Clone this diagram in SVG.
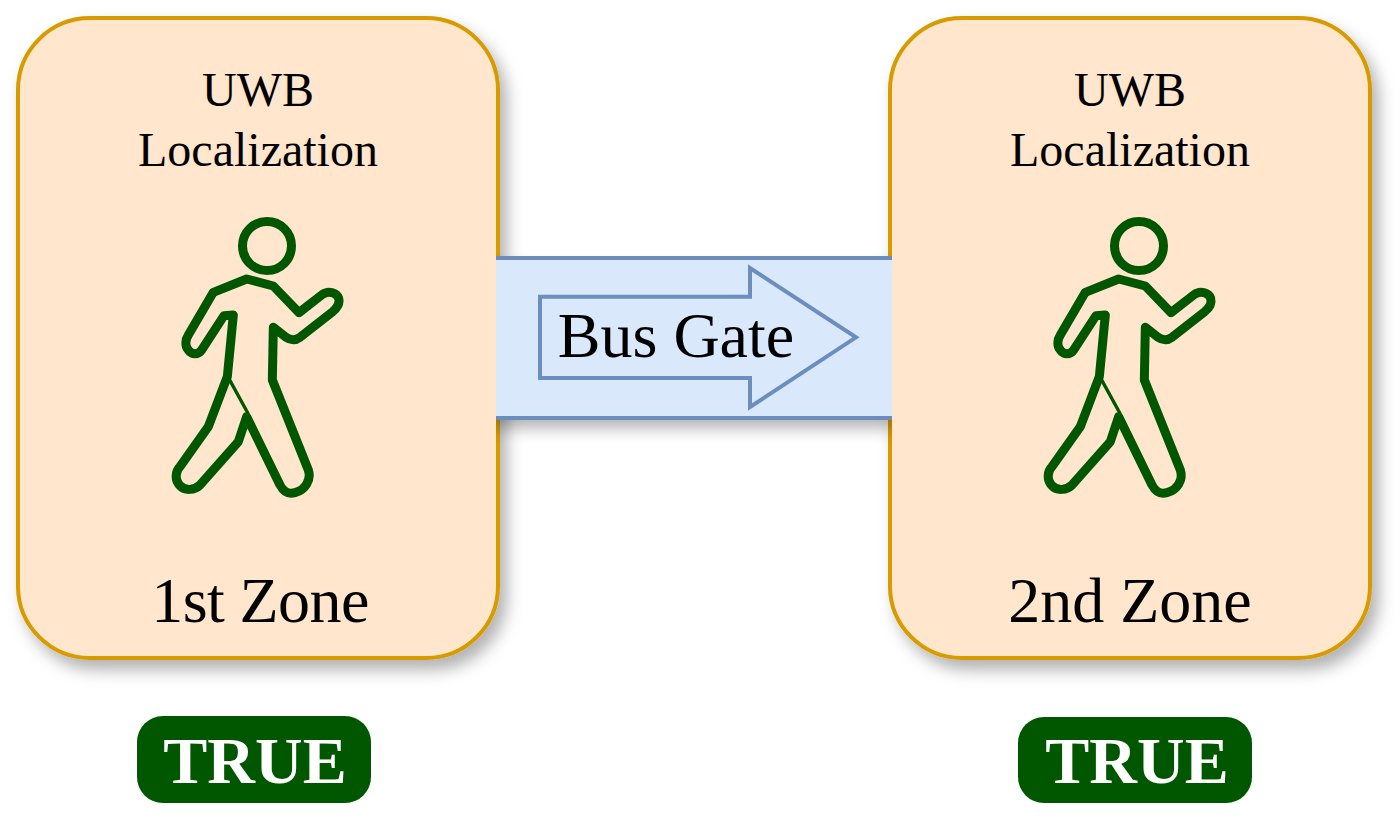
<svg xmlns="http://www.w3.org/2000/svg" width="1400" height="829" viewBox="0 0 1400 829">
  <style>
    .zone{fill:#ffe6cc;stroke:#d79b00;stroke-width:4}
    .t{font-family:"Liberation Serif","Times New Roman",serif;fill:#000;text-anchor:middle}
    .pill{fill:#005700}
    .true{font-family:"Liberation Serif","Times New Roman",serif;font-weight:bold;font-size:66px;fill:#fff;text-anchor:middle}
    .person{fill:none;stroke:#005700;stroke-width:27;stroke-linejoin:round}
  </style>
  <defs>
    <filter id="sh" x="-15%" y="-15%" width="130%" height="130%">
      <feDropShadow dx="7" dy="10" stdDeviation="8" flood-color="#000" flood-opacity="0.3"/>
    </filter>
    <filter id="blur" x="-5%" y="-20%" width="110%" height="150%"><feGaussianBlur stdDeviation="8"/></filter>
    <clipPath id="bandclip"><rect x="496" y="240" width="396" height="240"/></clipPath>
    <g id="walker" class="person" transform="translate(150 200) scale(0.33333)">
      <circle cx="351" cy="138" r="73.500"/>
      <path d="M290 237L370 258L447 338L515 285C535 270 560 278 566 295C570 310 560 325 548 335L450 412C435 423 420 420 408 412L370 382L367 540L475 810C485 840 465 870 435 878C410 885 398 870 390 855L290 650L265 725L150 855C135 870 105 875 88 855C75 840 75 815 90 800L175 680L232 530L250 345L222 347L155 450C145 465 125 465 115 450C105 440 105 420 115 405L190 277Z"/>
      <path d="M238 538L295 642" stroke-width="10"/>
    </g>
  </defs>
  <rect width="1400" height="829" fill="#fff"/>
  <g id="zone1">
    <rect class="zone" x="18" y="18" width="480" height="640" rx="72" ry="72" filter="url(#sh)"/>
    <text class="t" x="258" y="106" font-size="48">UWB</text>
    <text class="t" x="258" y="166" font-size="48">Localization</text>
    <use href="#walker"/>
    <text class="t" x="260" y="622" font-size="64" letter-spacing="-0.6">1st Zone</text>
  </g>
  <g id="zone2">
    <rect class="zone" x="890" y="18" width="480" height="640" rx="72" ry="72" filter="url(#sh)"/>
    <text class="t" x="1130" y="106" font-size="48">UWB</text>
    <text class="t" x="1130" y="166" font-size="48">Localization</text>
    <use href="#walker" x="872"/>
    <text class="t" x="1130" y="622" font-size="64">2nd Zone</text>
  </g>
  <g id="connectors">
    <g id="gate">
      <g clip-path="url(#bandclip)"><rect x="490" y="258" width="408" height="160" fill="#000" opacity="0.3" transform="translate(0 10)" filter="url(#blur)"/></g>
      <rect x="496" y="258" width="396" height="160" fill="#dae8fc"/>
      <path d="M496 258H892M496 418H892" fill="none" stroke="#6c8ebf" stroke-width="4"/>
    </g>
    <path id="arrow" d="M540 296.700H750V268L856 337.300 750 407V378H540Z" fill="#dae8fc" stroke="#6c8ebf" stroke-width="4"/>
    <text class="t" x="676" y="357" font-size="64">Bus Gate</text>
  </g>
  <g id="status1">
    <rect class="pill" x="137" y="716" width="234" height="87" rx="26" ry="26"/>
    <text class="true" x="255" y="783">TRUE</text>
  </g>
  <g id="status2">
    <rect class="pill" x="1018" y="717" width="234" height="86" rx="26" ry="26"/>
    <text class="true" x="1137" y="783">TRUE</text>
  </g>
</svg>
